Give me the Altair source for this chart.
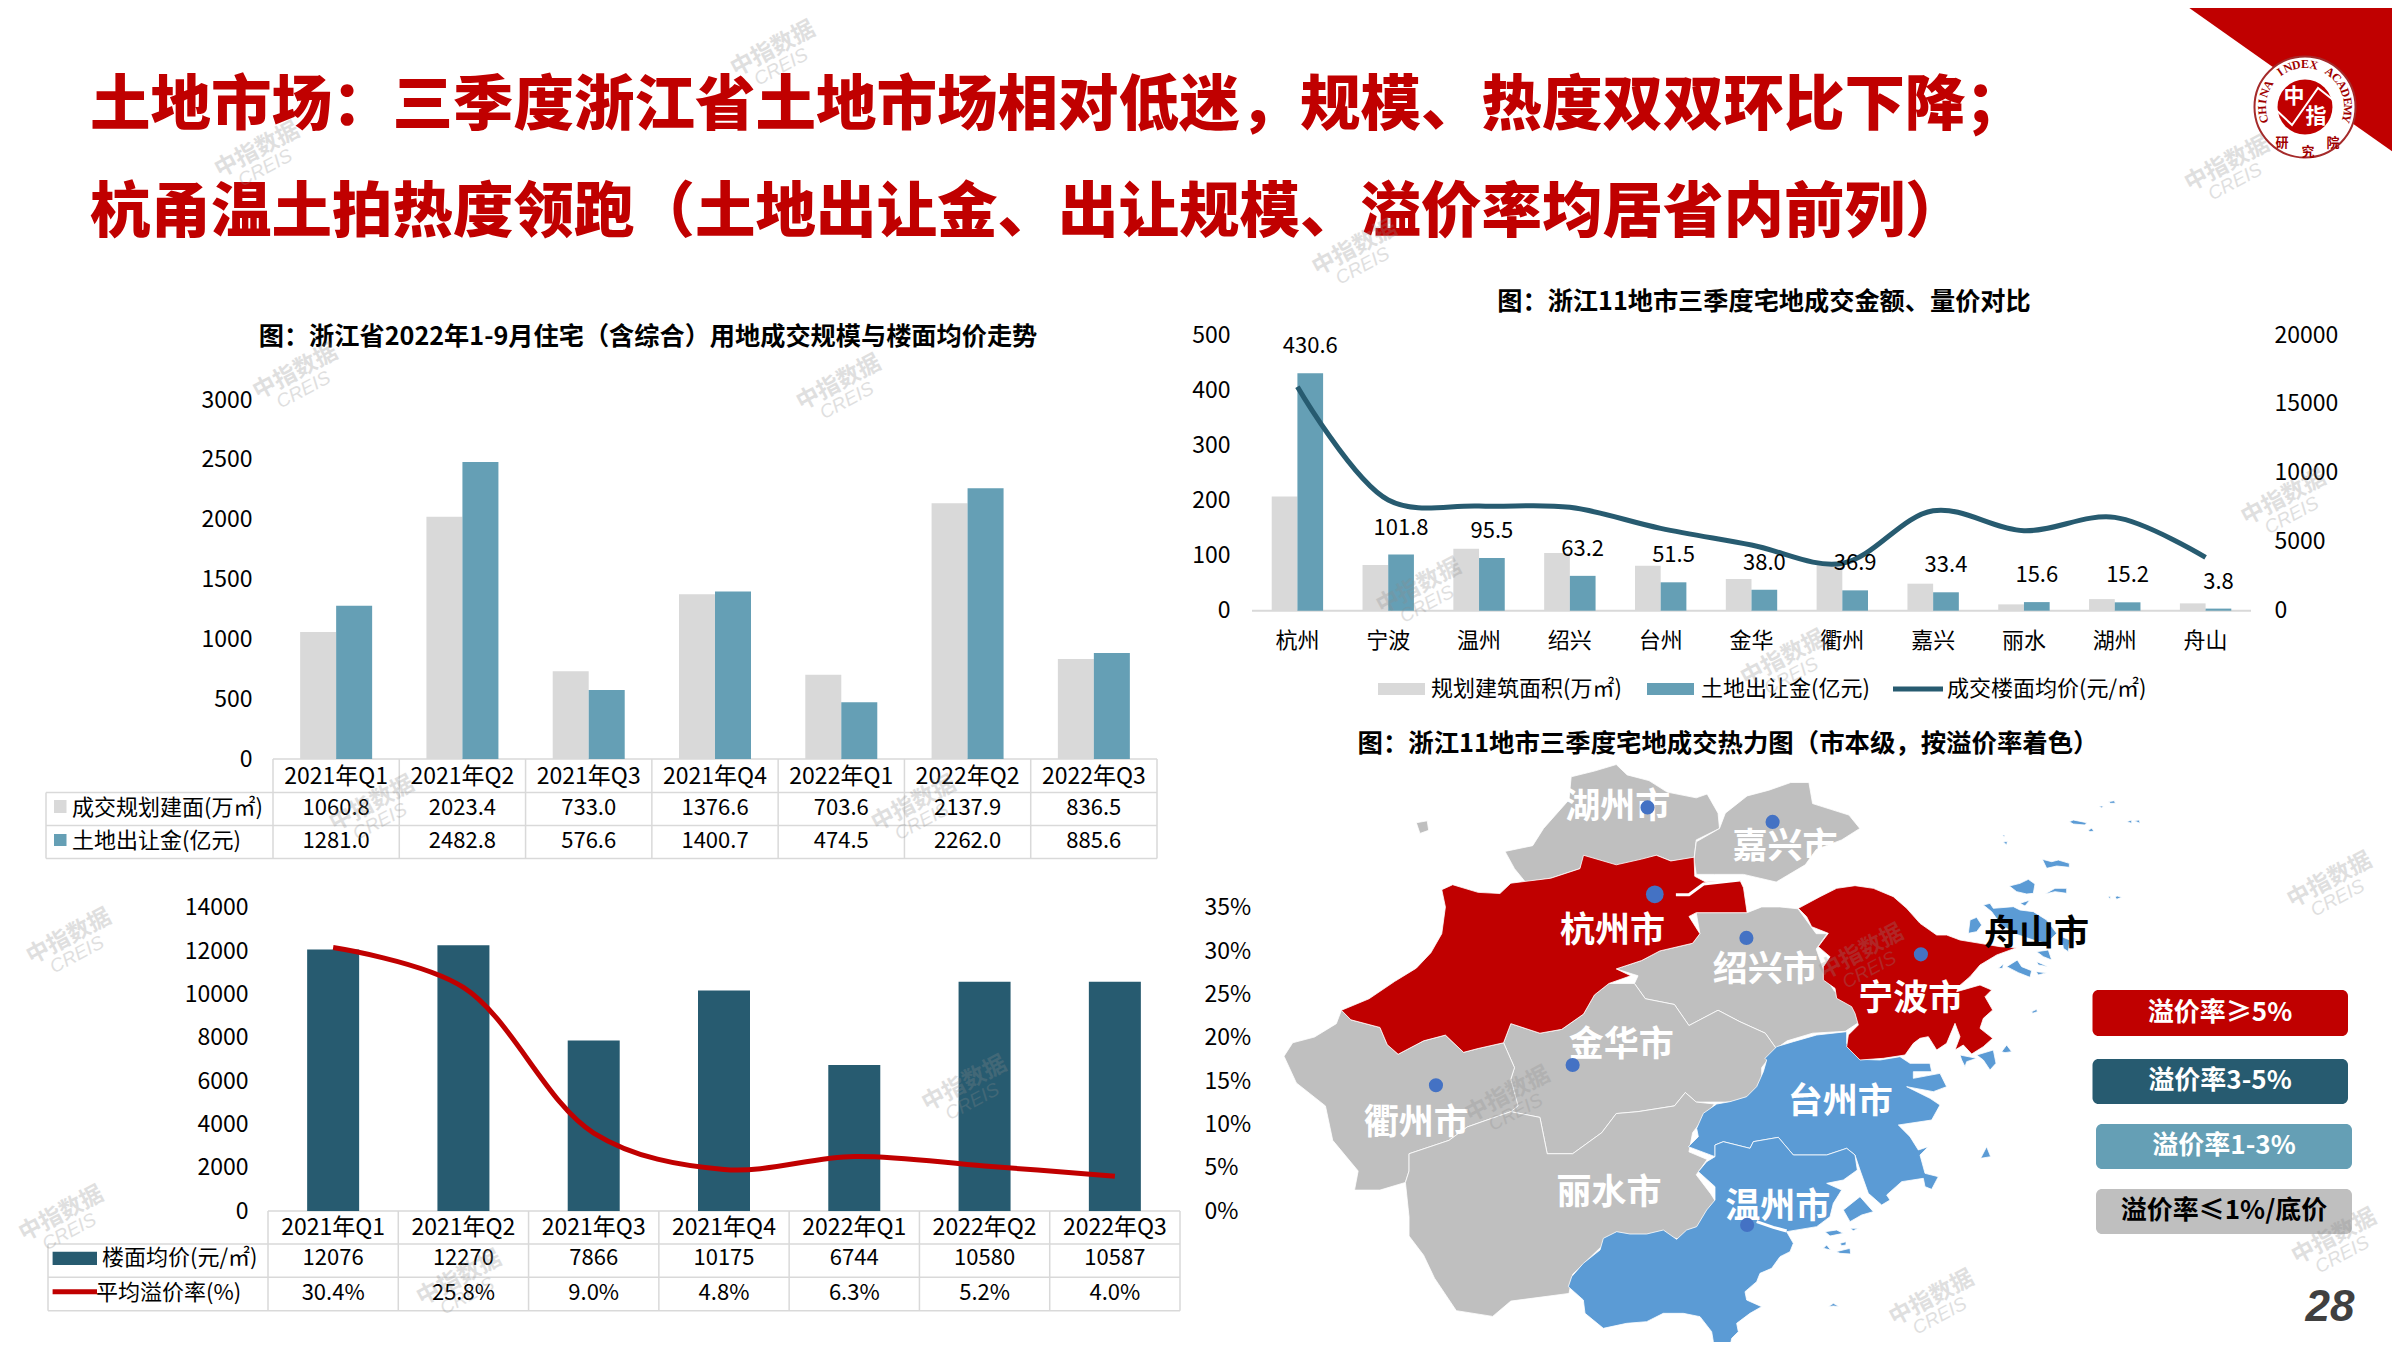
import math
import altair as alt
import pandas as pd

FONT = "Noto Sans CJK SC"
M = 8            # page margin: reference pixel -> canvas pixel
W, H = 2384, 1334
RED, DARK, TEAL, GREY, MAPGREY, MAPBLUE = "#C00000", "#275B70", "#659FB5", "#D9D9D9", "#BFBFBF", "#5B9BD5"
LINE = "#D9D9D9"

# ---------- data ----------
QUARTERS = ["2021年Q1", "2021年Q2", "2021年Q3", "2021年Q4", "2022年Q1", "2022年Q2", "2022年Q3"]
AREA = [1060.8, 2023.4, 733.0, 1376.6, 703.6, 2137.9, 836.5]
LAND = [1281.0, 2482.8, 576.6, 1400.7, 474.5, 2262.0, 885.6]
PRICE = [12076, 12270, 7866, 10175, 6744, 10580, 10587]
RATE = [0.304, 0.258, 0.090, 0.048, 0.063, 0.052, 0.040]

CITIES = ["杭州", "宁波", "温州", "绍兴", "台州", "金华", "衢州", "嘉兴", "丽水", "湖州", "舟山"]
CITY_AREA = [207, 83, 112.5, 104.6, 81.6, 57.4, 83, 49, 11.5, 21, 13.3]
CITY_LAND = [430.6, 101.8, 95.5, 63.2, 51.5, 38.0, 36.9, 33.4, 15.6, 15.2, 3.8]
CITY_PRICE = [16250, 8030, 7595, 7497, 5973, 4763, 3433, 7254, 5804, 6771, 3869]

df1 = pd.DataFrame({"q": QUARTERS, "area": AREA, "land": LAND})
df2 = pd.DataFrame({"q": QUARTERS, "price": PRICE, "rate": RATE})
df3 = pd.DataFrame({"c": CITIES, "area": CITY_AREA, "land": CITY_LAND, "price": CITY_PRICE})

# map outlines (three sets of trace units)
HUZHOU = [(428,70),(460,55),(490,38),(505,65),(535,80),(560,110),(600,125),(615,115),(630,165),(632,205),(600,235),(597,285),(565,290),(545,275),(525,290),(490,305),(445,290),(440,310),(400,335),(365,345),(350,310),(337,265),(375,250),(390,205),(425,130)]
JIAXING = [(632,205),(640,165),(670,120),(700,105),(730,85),(755,85),(760,140),(785,155),(810,170),(825,205),(800,235),(765,260),(750,300),(710,345),(665,325),(625,325),(600,325),(597,285),(600,240)]
HANGZHOU = [(112,680),(150,650),(185,605),(215,570),(235,530),(250,480),(255,410),(250,365),(265,352),(300,372),(330,375),(345,348),(400,335),(440,310),(445,275),(490,300),(525,285),(545,275),(565,290),(597,280),(598,330),(613,345),(660,340),(665,360),(670,425),(600,425),(590,435),(605,480),(595,505),(550,525),(525,550),(490,572),(510,590),(480,610),(460,640),(445,690),(415,730),(385,740),(345,715),(335,765),(300,780),(280,790),(255,745),(225,760),(190,795),(175,770),(165,725),(125,705)]
SHAOXING = [(600,425),(670,425),(690,410),(715,410),(740,415),(765,480),(780,480),(765,520),(780,600),(790,630),(815,660),(825,710),(805,735),(760,740),(725,760),(710,780),(695,740),(660,710),(630,680),(590,720),(570,665),(530,650),(515,610),(520,590),(490,572),(525,550),(550,525),(595,505),(605,480)]
JINHUA = [(335,765),(345,715),(385,740),(415,730),(445,690),(460,640),(480,610),(515,610),(530,650),(570,665),(590,720),(630,680),(660,710),(695,740),(710,780),(690,830),(690,880),(660,920),(620,920),(600,920),(585,895),(570,930),(520,945),(490,950),(470,1000),(430,1055),(395,1055),(385,960),(345,945),(345,860),(350,830)]
QUZHOU = [(112,680),(125,705),(165,725),(175,770),(190,795),(225,760),(255,745),(280,790),(300,780),(335,765),(350,830),(345,860),(355,930),(345,945),(285,985),(260,1020),(205,1055),(205,1100),(200,1130),(165,1150),(130,1150),(135,1100),(100,1020),(90,930),(50,870),(33,800),(45,765),(75,750),(105,715)]
LISHUI = [(205,1055),(260,1020),(285,985),(345,945),(385,960),(395,1055),(430,1055),(470,1000),(490,950),(520,945),(570,930),(585,895),(600,920),(625,925),(595,1000),(590,1050),(615,1070),(600,1110),(620,1160),(630,1190),(610,1245),(580,1280),(560,1270),(530,1280),(490,1260),(430,1370),(425,1420),(345,1440),(320,1480),(270,1465),(240,1380),(225,1320),(205,1270),(205,1220),(200,1130),(205,1100)]
WEST_ISLE = [(215,190),(230,185),(232,210),(220,218)]
RIVER = [(572,378),(590,378),(610,350),(660,340)]

NINGBO = [(55,385),(120,350),(170,325),(225,317),(280,325),(340,350),(380,385),(420,430),(470,465),(500,465),(540,480),(600,490),(660,500),(710,503),(650,525),(600,555),(570,590),(535,620),(530,635),(600,615),(635,630),(615,650),(638,690),(610,715),(600,745),(638,775),(610,800),(575,822),(550,795),(525,810),(540,770),(525,730),(500,790),(470,810),(445,770),(420,775),(400,790),(375,825),(310,835),(240,840),(200,800),(205,765),(235,735),(225,700),(215,680),(170,655),(165,625),(130,600),(130,560),(150,530),(115,500),(145,460),(95,440),(80,410)]
EAST_ISLES = [
    [(610,375),(630,370),(640,385),(700,380),(720,390),(760,395),(800,420),(830,460),(800,490),(760,480),(700,460),(660,430),(635,395)],
    [(565,460),(570,420),(590,412),(605,435),(590,455)],
    [(688,318),(720,310),(745,298),(765,312),(760,340),(740,342),(710,335)],
    [(787,238),(815,245),(835,240),(868,250),(868,262),(830,258),(800,265)],
    [(795,342),(825,325),(860,325),(860,340),(825,335)],
    [(720,370),(750,360),(735,378)],
    [(680,560),(712,540),(725,560),(755,572),(750,592),(715,578)],
    [(770,515),(805,510),(815,540),(790,530)],
    [(845,470),(870,480),(865,515),(850,505)],
    [(655,565),(670,552),(668,565)],
    [(770,545),(805,560),(775,555)],
    [(768,575),(800,578),(775,585)],
    [(755,695),(770,688),(772,695),(758,700)],
    [(868,125),(880,120),(920,128),(915,135),(880,132)],
    [(925,150),(935,145),(942,153),(930,155)],
    [(1040,125),(1055,120),(1055,130)],
    [(1062,122),(1078,120),(1080,130)],
    [(985,65),(1003,62),(1006,70),(992,70)],
    [(958,78),(970,78),(965,84)],
    [(668,165),(675,165),(672,172)],
    [(670,186),(682,184),(680,195)],
    [(985,350),(992,348),(990,358)],
    [(1005,350),(1012,348),(1025,352),(1010,358)],
    [(590,825),(640,810),(648,850),(630,870),(610,840)],
    [(540,825),(590,835),(560,845),(555,860),(545,840)],
    [(665,815),(680,795),(695,815),(675,818)],
]
TAIZHOU = [(650,50),(700,35),(770,15),(860,5),(860,40),(900,88),(960,90),(1020,80),(1050,100),(1110,100),(1115,125),(1060,125),(1060,145),(1140,130),(1160,170),(1120,185),(1040,170),(1110,205),(1140,225),(1115,270),(1015,285),(1050,320),(1075,360),(1105,350),(1080,375),(1095,430),(1135,440),(1115,478),(1095,470),(1090,445),(1025,455),(980,495),(990,510),(965,525),(925,490),(900,420),(890,390),(885,375),(860,355),(800,375),(700,375),(655,322),(580,335),(570,355),(490,335),(465,345),(465,380),(385,350),(415,320),(410,295),(430,250),(470,222),(510,215),(560,200),(590,170),(610,125),(620,90),(615,85)]
WENZHOU = [(465,380),(465,345),(490,335),(570,355),(580,335),(655,322),(700,375),(800,375),(860,355),(885,375),(892,420),(850,450),(800,460),(845,480),(820,520),(810,560),(770,590),(680,605),(700,640),(690,665),(660,680),(635,715),(600,730),(590,755),(555,785),(560,810),(605,830),(570,850),(530,880),(535,905),(515,925),(510,950),(475,955),(460,935),(455,905),(420,860),(370,850),(310,850),(260,875),(200,880),(130,895),(75,850),(70,810),(25,770),(35,740),(70,700),(120,660),(130,625),(170,605),(210,612),(260,612),(310,600),(350,628),(380,600),(410,590),(440,540),(465,510),(465,470),(415,425),(440,395)]
WENZHOU_RIVER = [(590,575),(640,592),(680,603)]
SOUTH_ISLES = [
    [(850,540),(900,500),(940,545),(905,555),(870,575)],
    [(795,605),(830,600),(850,610),(810,618)],
    [(870,595),(895,595),(880,602)],
    [(790,655),(800,645),(812,660)],
    [(828,665),(870,655),(872,672),(840,670)],
    [(840,640),(858,635),(858,645),(845,647)],
    [(805,830),(820,820),(838,830),(820,828)],
    [(1262,385),(1280,350),(1292,380)],
]

CITY_DOTS = [(533,150,200),(705,188,200),(543,377,314),(669,491,200),(909,534,200),(430,823,200),(242,876,200),(670,1241,200)]
CITY_LABELS = [("杭州市",485,472,"#fff"),("绍兴市",695,575,"#fff"),("宁波市",895,650,"#fff"),("舟山市",1068,480,"#000"),
               ("湖州市",492,148,"#fff"),("嘉兴市",722,253,"#fff"),("金华市",497,770,"#fff"),("衢州市",215,975,"#fff"),
               ("丽水市",480,1157,"#fff"),("台州市",798,920,"#fff"),("温州市",712,1195,"#fff")]
WATERMARKS = [(505,32),(168,98),(1455,107),(885,162),(193,243),(548,250),(1492,325),(45,612),(1522,575),(927,383),
              (243,525),(597,525),(1216,622),(1165,430),(630,708),(985,715),(40,793),(300,835),(1262,848),(1525,808)]
CORNER = [(2178,0),(2400,0),(2400,157)]
LOGO_TICK = [(2274,108),(2292,125),(2318,88),(2337,103)]


# ---------- helpers ----------
def px(v):
    return v - M

def tx(x): return 1260 + x / 1.3754
def ty(y): return 750 + y / 2.613
def main_xy(p): return (tx(p[0]), ty(p[1]))
def east_xy(p): return (1780 + p[0] / 3, 780 + p[1] / 3)
def south_xy(p): return (1560 + p[0] / 3, 1030 + p[1] / 3)

def poly(points, tier, conv=None):
    ring = [list(conv(p)) if conv else list(p) for p in points]
    ring.append(ring[0])
    return {"type": "Feature", "geometry": {"type": "Polygon", "coordinates": [ring]}, "properties": {"tier": tier}}

def line_feature(points):
    return {"type": "Feature", "geometry": {"type": "LineString", "coordinates": [list(p) for p in points]}, "properties": {}}

PROJ = dict(type="identity", scale=1, translate=[-M, -M])

def label(text, x, y, size, color="#000000", weight="normal", align="center", font=FONT, style="normal"):
    return alt.Chart(alt.Data(values=[{"t": text}])).mark_text(
        font=font, fontSize=size, color=color, fontWeight=weight, align=align, baseline="middle", fontStyle=style
    ).encode(x=alt.value(px(x)), y=alt.value(px(y)), text="t:N")

def pq(f, t="x"):
    if t == "x":
        return alt.X(f"{f}:Q", scale=None, axis=None)
    return alt.Y(f"{f}:Q", scale=None, axis=None)

def rules(segments, color=LINE, width=1.5):
    d = pd.DataFrame([{"x": px(a), "y": px(b), "x2": px(c), "y2": px(e)} for a, b, c, e in segments])
    return alt.Chart(d).mark_rule(color=color, strokeWidth=width).encode(
        x=pq("x"), y=pq("y", "y"), x2="x2:Q", y2="y2:Q")

def rects(items, **kw):
    d = pd.DataFrame([{"x": px(a), "y": px(b), "x2": px(c), "y2": px(e), "c": col} for a, b, c, e, col in items])
    return alt.Chart(d).mark_rect(**kw).encode(
        x=pq("x"), y=pq("y", "y"), x2="x2:Q", y2="y2:Q", color=alt.Color("c:N", scale=None))

def band(f, domain, x0, x1, axis=None):
    return alt.X(f"{f}:N", scale=alt.Scale(type="band", domain=domain, range=[px(x0), px(x1)], paddingInner=0, paddingOuter=0),
                 axis=axis, title=None, sort=None)

def lin(f, domain, y0, y1, axis=None):
    return alt.Y(f"{f}:Q", scale=alt.Scale(domain=domain, range=[px(y0), px(y1)], nice=False, zero=True),
                 axis=axis, title=None)

def cat_axis(y, pad, size=23):
    return alt.Axis(orient="bottom", offset=px(y) - H, domain=False, ticks=False, tickSize=0, grid=False, labelAngle=0,
                    labelFont=FONT, labelFontSize=size, labelColor="#000000", labelPadding=pad, labelBaseline="middle",
                    labelOverlap=False, labelFlush=False, title=None)

def val_left(x, values, fmt="d"):
    return alt.Axis(orient="left", offset=-px(x), domain=False, ticks=False, tickSize=0, grid=False, labelPadding=0,
                    labelFont=FONT, labelFontSize=23, labelColor="#000000", values=values, labelOverlap=False,
                    labelFlush=False, title=None, format=fmt)

def val_right(x, values, fmt="d"):
    return alt.Axis(orient="right", offset=px(x) - W, domain=False, ticks=False, tickSize=0, grid=False, labelPadding=0,
                    labelFont=FONT, labelFontSize=23, labelColor="#000000", values=values, labelOverlap=False,
                    labelFlush=False, title=None, format=fmt)

layers = []

# ---------- page furniture ----------
layers.append(alt.Chart(alt.Data(values=[poly(CORNER, "c")])).mark_geoshape(fill=RED, stroke=None).project(**PROJ))
layers.append(label("土地市场：三季度浙江省土地市场相对低迷，规模、热度双双环比下降；", 90, 107, 60.5, RED, 900, "left"))
layers.append(label("杭甬温土拍热度领跑（土地出让金、出让规模、溢价率均居省内前列）", 90, 214, 60.5, RED, 900, "left"))
layers.append(label("图：浙江省2022年1-9月住宅（含综合）用地成交规模与楼面均价走势", 648, 337, 25.2, "#000000", "bold"))
layers.append(label("图：浙江11地市三季度宅地成交金额、量价对比", 1764, 302, 25.2, "#000000", "bold"))
layers.append(label("图：浙江11地市三季度宅地成交热力图（市本级，按溢价率着色）", 1728, 744, 25.4, "#000000", "bold"))
layers.append(label("28", 2330, 1308, 44, "#404040", "bold", font="Liberation Sans", style="italic"))

# logo
logo = pd.DataFrame({"x": [px(2305)], "y": [px(107)]})
layers.append(alt.Chart(logo).mark_circle(size=math.pi * 57 ** 2, fill="#FFFFFF", stroke="#A52A2A", strokeWidth=2, opacity=1).encode(x=pq("x"), y=pq("y", "y")))
layers.append(alt.Chart(logo).mark_circle(size=math.pi * 31 ** 2, fill=RED, opacity=1).encode(x=pq("x"), y=pq("y", "y")))
layers.append(alt.Chart(alt.Data(values=[line_feature(LOGO_TICK)])).mark_geoshape(filled=False, stroke="#FFFFFF", strokeWidth=2).project(**PROJ))
layers.append(label("中", 2294, 97, 21, "#FFFFFF", "bold"))
layers.append(label("指", 2316, 117, 21, "#FFFFFF", "bold"))
ring_text = "CHINA INDEX ACADEMY"
ring = pd.DataFrame([
    {"t": ch, "x": px(2305 + 43 * math.sin(math.radians(-106 + i * 212 / 18))),
     "y": px(107 - 43 * math.cos(math.radians(-106 + i * 212 / 18))), "a": (-106 + i * 212 / 18) % 360}
    for i, ch in enumerate(ring_text)])
layers.append(alt.Chart(ring).mark_text(font="Liberation Serif", fontSize=12, fontWeight="bold", color="#A00000", baseline="middle").encode(
    x=pq("x"), y=pq("y", "y"), text="t:N", angle=alt.Angle("a:Q", scale=None)))
layers.append(label("研", 2282, 143, 13, "#A00000", "bold"))
layers.append(label("究", 2308, 152, 13, "#A00000", "bold"))
layers.append(label("院", 2333, 143, 13, "#A00000", "bold"))

# ---------- chart 1 ----------
X1 = (QUARTERS, 273, 1157)
col1 = [273 + (1157 - 273) / 7 * i for i in range(8)]
layers.append(rules([(273, 759, 1157, 759), (46, 792.4, 1157, 792.4), (46, 825.4, 1157, 825.4), (46, 858.6, 1157, 858.6), (46, 792.4, 46, 858.6)]
                    + [(c, 759, c, 858.6) for c in col1]))
layers.append(alt.Chart(df1).mark_bar(width=36, xOffset=-18, color=GREY).encode(
    x=band("q", *X1, axis=cat_axis(759, 17)),
    y=lin("area", [0, 3000], 759, 400, axis=val_left(252, [0, 500, 1000, 1500, 2000, 2500, 3000]))))
layers.append(alt.Chart(df1).mark_bar(width=36, xOffset=18, color=TEAL).encode(x=band("q", *X1), y=lin("land", [0, 3000], 759, 400)))
for field, yy in (("area", 808), ("land", 841)):
    layers.append(alt.Chart(df1).mark_text(font=FONT, fontSize=22, color="#000000", baseline="middle").encode(
        x=band("q", *X1), y=alt.value(px(yy)), text=alt.Text(f"{field}:Q", format=".1f")))
layers.append(rects([(54, 800, 66.5, 813, GREY), (54, 834, 66.5, 846, TEAL)]))
layers.append(label("成交规划建面(万㎡)", 72, 808, 22, align="left"))
layers.append(label("土地出让金(亿元)", 72, 841, 22, align="left"))

# ---------- chart 2 ----------
X2 = (QUARTERS, 268, 1180)
col2 = [268 + (1180 - 268) / 7 * i for i in range(8)]
layers.append(rules([(268, 1211, 1180, 1211), (48, 1244, 1180, 1244), (48, 1277.3, 1180, 1277.3), (48, 1310.7, 1180, 1310.7), (48, 1244, 48, 1310.7)]
                    + [(c, 1211, c, 1310.7) for c in col2]))
layers.append(alt.Chart(df2).mark_bar(width=52, color=DARK).encode(
    x=band("q", *X2, axis=cat_axis(1211, 16)),
    y=lin("price", [0, 14000], 1211, 907.7, axis=val_left(248, list(range(0, 14001, 2000))))))
layers.append(alt.Chart(df2).mark_line(color=RED, strokeWidth=5, interpolate="catmull-rom").encode(
    x=band("q", *X2),
    y=lin("rate", [0, 0.35], 1211, 907.7, axis=val_right(1204, [0, .05, .10, .15, .20, .25, .30, .35], ".0%"))))
layers.append(alt.Chart(df2).mark_text(font=FONT, fontSize=22, color="#000000", baseline="middle").encode(
    x=band("q", *X2), y=alt.value(px(1258)), text=alt.Text("price:Q", format="d")))
layers.append(alt.Chart(df2).mark_text(font=FONT, fontSize=22, color="#000000", baseline="middle").encode(
    x=band("q", *X2), y=alt.value(px(1292.7)), text=alt.Text("rate:Q", format=".1%")))
layers.append(rects([(52.6, 1251.7, 97, 1265, DARK)]))
layers.append(rules([(52.6, 1291.7, 97, 1291.7)], RED, 5))
layers.append(label("楼面均价(元/㎡)", 102, 1258, 22, align="left"))
layers.append(label("平均溢价率(%)", 96, 1292.7, 22, align="left"))

# ---------- chart 3 ----------
X3 = (CITIES, 1252, 2251)
layers.append(rules([(1252, 610.7, 2251, 610.7)], LINE, 2))
layers.append(alt.Chart(df3).mark_bar(width=25.7, xOffset=-12.85, color=GREY).encode(
    x=band("c", *X3, axis=cat_axis(610.7, 30, 22)),
    y=lin("area", [0, 500], 610.7, 335, axis=val_left(1230, [0, 100, 200, 300, 400, 500]))))
layers.append(alt.Chart(df3).mark_bar(width=25.7, xOffset=12.85, color=TEAL).encode(x=band("c", *X3), y=lin("land", [0, 500], 610.7, 335)))
layers.append(alt.Chart(df3).mark_line(color=DARK, strokeWidth=5, interpolate="catmull-rom").encode(
    x=band("c", *X3),
    y=lin("price", [0, 20000], 610.7, 335, axis=val_right(2274, [0, 5000, 10000, 15000, 20000]))))
layers.append(alt.Chart(df3).mark_text(font=FONT, fontSize=22, color="#000000", baseline="middle", xOffset=12.85, yOffset=-27).encode(
    x=band("c", *X3), y=lin("land", [0, 500], 610.7, 335), text=alt.Text("land:Q", format=".1f")))
layers.append(rects([(1378, 683, 1425, 695, GREY), (1647, 683, 1694, 695, TEAL)]))
layers.append(rules([(1893, 689, 1943, 689)], DARK, 5))
layers.append(label("规划建筑面积(万㎡)", 1431, 689, 22, align="left"))
layers.append(label("土地出让金(亿元)", 1701, 689, 22, align="left"))
layers.append(label("成交楼面均价(元/㎡)", 1947, 689, 22, align="left"))

# ---------- map ----------
TIERS = ["≥5%", "blue", "≤1%"]
features = [poly(p, "≤1%", main_xy) for p in (HUZHOU, JIAXING, SHAOXING, JINHUA, QUZHOU, LISHUI, WEST_ISLE)]
features += [poly(TAIZHOU, "blue", south_xy), poly(WENZHOU, "blue", south_xy)]
features += [poly(p, "blue", east_xy) for p in EAST_ISLES] + [poly(p, "blue", south_xy) for p in SOUTH_ISLES]
features += [poly(HANGZHOU, "≥5%", main_xy), poly(NINGBO, "≥5%", east_xy)]
layers.append(alt.Chart(alt.Data(values=features)).mark_geoshape(stroke="#FFFFFF", strokeWidth=0.8).encode(
    color=alt.Color("properties.tier:N", scale=alt.Scale(domain=TIERS, range=[RED, MAPBLUE, MAPGREY]), legend=None)
).project(**PROJ))
rivers = [line_feature([main_xy(p) for p in RIVER]), line_feature([south_xy(p) for p in WENZHOU_RIVER])]
layers.append(alt.Chart(alt.Data(values=rivers)).mark_geoshape(filled=False, stroke="#FFFFFF", strokeWidth=3).project(**PROJ))
for name, a, b, col in CITY_LABELS:
    layers.append(label(name, tx(a), ty(b), 35, col, "bold"))
dots = pd.DataFrame([{"x": px(tx(a)), "y": px(ty(b)), "s": s} for a, b, s in CITY_DOTS])
layers.append(alt.Chart(dots).mark_circle(color="#4472C4", opacity=1).encode(
    x=pq("x"), y=pq("y", "y"), size=alt.Size("s:Q", scale=None)))

# map key
layers.append(rects([(2092.5, 990, 2348, 1036, RED), (2092.5, 1059, 2348, 1104, DARK),
                     (2096, 1124, 2352, 1169, TEAL), (2096, 1189, 2352, 1234, MAPGREY)], cornerRadius=6))
layers.append(label("溢价率≥5%", 2220, 1013, 26, "#FFFFFF", "bold"))
layers.append(label("溢价率3-5%", 2220, 1081, 26, "#FFFFFF", "bold"))
layers.append(label("溢价率1-3%", 2224, 1146, 26, "#FFFFFF", "bold"))
layers.append(label("溢价率≤1%/底价", 2224, 1211, 26, "#000000", "bold"))

# ---------- watermarks ----------
wm = pd.DataFrame([{"x": px(a * 2400 / 1568), "y": px(b * 2400 / 1568)} for a, b in WATERMARKS])
wm["x2"] = wm["x"] + 8
wm["y2"] = wm["y"] + 18
layers.append(alt.Chart(wm).mark_text(text="中指数据", font=FONT, fontSize=23, fontWeight="bold", color="#8C8C8C", opacity=0.27, angle=332, baseline="middle").encode(
    x=pq("x"), y=pq("y", "y")))
layers.append(alt.Chart(wm).mark_text(text="CREIS", font="Liberation Sans", fontSize=19, fontStyle="italic", color="#8C8C8C", opacity=0.27, angle=332, baseline="middle").encode(
    x=pq("x2"), y=pq("y2", "y")))

chart = alt.layer(*layers).resolve_scale(x="independent", y="independent", color="independent", size="independent").resolve_axis(
    x="independent", y="independent"
).properties(width=W, height=H, padding=0, background="#FFFFFF",
             autosize=alt.AutoSizeParams(type="none", contains="content")
).configure_view(stroke=None)

chart.save("out.html", embed_options={"renderer": "svg", "actions": False})
